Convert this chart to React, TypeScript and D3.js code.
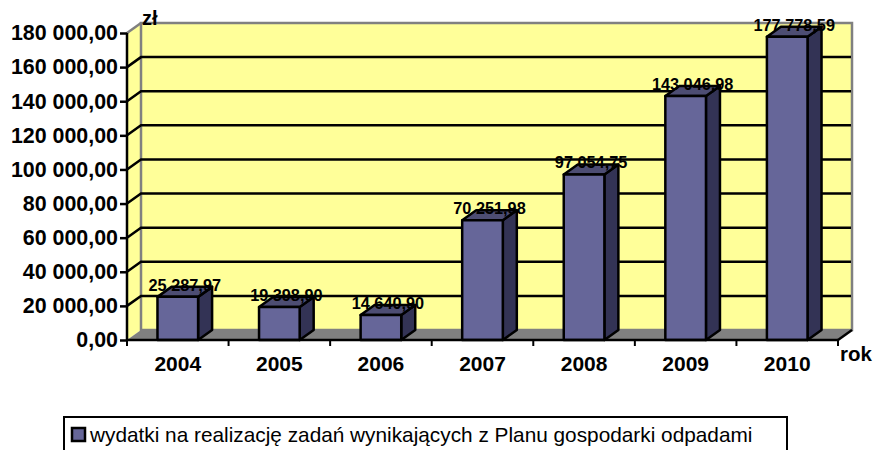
import React, { useEffect, useRef } from 'react';
import * as d3 from 'd3';

const years = ['2004', '2005', '2006', '2007', '2008', '2009', '2010'];
const values = [25287.97, 19398.9, 14640.9, 70251.98, 97054.75, 143046.98, 177778.59];
const yTicks = [0, 20000, 40000, 60000, 80000, 100000, 120000, 140000, 160000, 180000];
const legendLabel = 'wydatki na realizację zadań wynikających z Planu gospodarki odpadami';

const FONT = '"Liberation Sans", Arial, sans-serif';

// 3d offset of the back wall
const DX = 14;
const DY = -10;

const left = 127;
const right = 838;
const bottom = 340;
const top = 33;

const pl = d3.formatLocale({ decimal: ',', thousands: '\u00a0', grouping: [3], currency: ['', ' zł'] });
const fmt = pl.format(',.2f');

const App = () => {
  const ref = useRef<SVGSVGElement>(null);

  useEffect(() => {
    document.body.style.margin = '0';

    const svg = d3.select(ref.current);
    svg.selectAll('*').remove();

    const x = d3.scaleBand().domain(years).range([left, right]).paddingInner(0.6).paddingOuter(0.3);
    const y = d3.scaleLinear().domain([0, 180000]).range([bottom, top]);

    const poly = (pts: number[][]) => pts.map((p) => p.join(',')).join(' ');

    // walls and floor
    svg.append('polygon')
      .attr('points', poly([[left, bottom], [left + DX, bottom + DY], [left + DX, top + DY], [left, top]]))
      .attr('fill', '#ffff99');
    svg.append('rect')
      .attr('x', left + DX).attr('y', top + DY)
      .attr('width', right - left).attr('height', bottom - top)
      .attr('fill', '#ffff99')
      .attr('stroke', '#808080').attr('stroke-width', 2.5);
    svg.append('polygon')
      .attr('points', poly([[left, bottom], [left + DX, bottom + DY], [right + DX, bottom + DY], [right, bottom]]))
      .attr('fill', '#808080');
    svg.append('line')
      .attr('x1', left).attr('y1', top)
      .attr('x2', left + DX).attr('y2', top + DY)
      .attr('stroke', '#808080').attr('stroke-width', 2.5);

    // gridlines run over side wall and back wall
    svg.append('g').selectAll('polyline')
      .data(yTicks.filter((d) => d > 0 && d < 180000))
      .join('polyline')
      .attr('points', (d) => poly([[left, y(d)], [left + DX, y(d) + DY], [right + DX - 1, y(d) + DY]]))
      .attr('fill', 'none')
      .attr('stroke', '#000')
      .attr('stroke-width', 2.5);

    // floor front diagonal
    svg.append('line')
      .attr('x1', right).attr('y1', bottom)
      .attr('x2', right + DX).attr('y2', bottom + DY)
      .attr('stroke', '#000').attr('stroke-width', 2.5);

    // bars
    const bars = svg.append('g').selectAll('g')
      .data(values)
      .join('g')
      .attr('stroke', '#000')
      .attr('stroke-width', 2.5)
      .attr('stroke-linejoin', 'round');
    const bx = (i: number) => x(years[i]) as number;
    const bw = x.bandwidth();
    bars.append('polygon')
      .attr('fill', '#333355')
      .attr('points', (d, i) => poly([
        [bx(i) + bw, bottom], [bx(i) + bw + DX, bottom + DY],
        [bx(i) + bw + DX, y(d) + DY], [bx(i) + bw, y(d)],
      ]));
    bars.append('polygon')
      .attr('fill', '#4d4d73')
      .attr('points', (d, i) => poly([
        [bx(i), y(d)], [bx(i) + DX, y(d) + DY],
        [bx(i) + bw + DX, y(d) + DY], [bx(i) + bw, y(d)],
      ]));
    bars.append('rect')
      .attr('fill', '#666699')
      .attr('x', (d, i) => bx(i))
      .attr('y', (d) => y(d))
      .attr('width', bw)
      .attr('height', (d) => bottom - y(d));

    // value labels
    svg.append('g').selectAll('text')
      .data(values)
      .join('text')
      .attr('x', (d, i) => bx(i) + bw / 2 + 7)
      .attr('y', (d) => y(d) - 6)
      .attr('text-anchor', 'middle')
      .attr('font-family', FONT)
      .attr('font-weight', 'bold')
      .attr('font-size', 16.3)
      .attr('fill', '#000')
      .text((d) => fmt(d));

    // axes
    const yAxis = d3.axisLeft(y).tickValues(yTicks).tickSize(7).tickPadding(2)
      .tickFormat((d) => fmt(d as number));
    const gy = svg.append('g').attr('transform', `translate(${left},0)`).call(yAxis);
    gy.select('.domain').attr('d', `M-0,${top}V${bottom}`);

    const xEdges = d3.scaleLinear().domain([0, years.length]).range([left, right]);
    svg.append('line')
      .attr('x1', left).attr('y1', bottom)
      .attr('x2', right).attr('y2', bottom)
      .attr('stroke', '#000').attr('stroke-width', 2.5);
    svg.append('g').selectAll('line')
      .data(d3.range(years.length + 1))
      .join('line')
      .attr('x1', (d) => xEdges(d)).attr('x2', (d) => xEdges(d))
      .attr('y1', bottom).attr('y2', bottom + 6)
      .attr('stroke', '#000').attr('stroke-width', 2);

    gy.selectAll('.domain, .tick line').attr('stroke', '#000').attr('stroke-width', 2.5);
    gy.selectAll('text')
      .attr('font-family', FONT)
      .attr('font-weight', 'bold')
      .attr('font-size', 21.4)
      .attr('fill', '#000');

    svg.append('g').selectAll('text')
      .data(years)
      .join('text')
      .attr('x', (d) => (x(d) as number) + bw / 2)
      .attr('y', 371)
      .attr('text-anchor', 'middle')
      .attr('font-family', FONT)
      .attr('font-weight', 'bold')
      .attr('font-size', 21)
      .attr('fill', '#000')
      .text((d) => d);

    // axis titles
    svg.append('text').attr('x', 142).attr('y', 25)
      .attr('font-family', FONT).attr('font-weight', 'bold').attr('font-size', 20)
      .text('zł');
    svg.append('text').attr('x', 840).attr('y', 361)
      .attr('font-family', FONT).attr('font-weight', 'bold').attr('font-size', 20.5)
      .text('rok');

    // legend
    svg.append('rect')
      .attr('x', 64).attr('y', 417).attr('width', 723).attr('height', 40)
      .attr('fill', '#fff').attr('stroke', '#000').attr('stroke-width', 2);
    svg.append('rect')
      .attr('x', 72).attr('y', 428).attr('width', 13).attr('height', 13)
      .attr('fill', '#666699').attr('stroke', '#000').attr('stroke-width', 2.5);
    svg.append('text')
      .attr('x', 90).attr('y', 442)
      .attr('font-family', FONT).attr('font-size', 20.8)
      .text(legendLabel);
  }, []);

  return <svg ref={ref} width={874} height={450} style={{ display: 'block' }} />;
};

export default App;
